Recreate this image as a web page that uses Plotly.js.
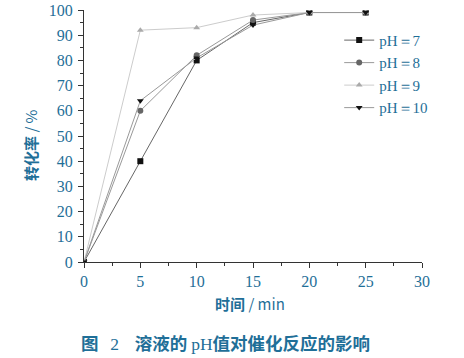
<!DOCTYPE html>
<html><head><meta charset="utf-8">
<script src="https://cdn.plot.ly/plotly-3.0.1.min.js"></script>
<style>body{margin:0;background:#fff}#c{width:464px;height:358px}</style>
</head><body><div id="c"></div>
<script>
const time = [0, 5, 10, 15, 20, 25];
const ph7 = [0, 40, 80, 95, 99, 99];
const ph8 = [0, 60, 82, 96, 99, 99];
const ph9 = [0, 92, 93, 98, 99, 99];
const ph10 = [0, 64, 81, 94, 99, 99];
const names = ['pH＝7', 'pH＝8', 'pH＝9', 'pH＝10'];
const xTicks = [0, 5, 10, 15, 20, 25, 30];
const yTicks = [0, 10, 20, 30, 40, 50, 60, 70, 80, 90, 100];

const blue = '#1f6f98';
const serif = 'Liberation Serif, Times New Roman, serif';
const cjk = 'Noto Sans CJK SC, sans-serif';

const styles = [
  {lc:'#666', mc:'#111', sym:'square'},
  {lc:'#999', mc:'#666', sym:'circle'},
  {lc:'#ccc', mc:'#aaa', sym:'triangle-up'},
  {lc:'#999', mc:'#111', sym:'triangle-down'}
];
const series = [ph7, ph8, ph9, ph10];
const data = series.map((s, i) => ({
  x: time, y: s, name: names[i], type: 'scatter', mode: 'lines+markers',
  line: {color: styles[i].lc, width: 1},
  marker: {color: styles[i].mc, symbol: styles[i].sym, size: 6}
}));

const layout = {
  width: 464, height: 358,
  margin: {l: 84, r: 42, t: 10, b: 96},
  paper_bgcolor: '#fff', plot_bgcolor: '#fff',
  showlegend: true,
  legend: {x: 0.755, y: 0.945, xanchor: 'left', yanchor: 'top',
    font: {family: serif, size: 15, color: blue},
    bgcolor: 'rgba(0,0,0,0)', tracegroupgap: 0, itemwidth: 30},
  xaxis: {range: [0, 30], tickvals: xTicks, ticktext: xTicks.map(String),
    showgrid: false, zeroline: false, showline: true, linecolor: '#333', linewidth: 1,
    ticks: 'outside', ticklen: 5, tickcolor: '#333',
    minor: {dtick: 2.5, ticks: 'outside', ticklen: 3, tickcolor: '#333'},
    tickfont: {family: serif, size: 16, color: blue}},
  yaxis: {range: [0, 100], tickvals: yTicks, ticktext: yTicks.map(String),
    showgrid: false, zeroline: false, showline: true, linecolor: '#333', linewidth: 1,
    ticks: 'outside', ticklen: 5, tickcolor: '#333', ticklabelstandoff: 2,
    minor: {dtick: 5, ticks: 'outside', ticklen: 3, tickcolor: '#333'},
    tickfont: {family: serif, size: 16, color: blue}},
  annotations: [
    {text: '<b>转化率</b> / %', xref: 'paper', yref: 'paper', x: -0.16, y: 0.464,
      xanchor: 'center', yanchor: 'middle', textangle: -90, showarrow: false,
      font: {family: cjk, size: 15, color: blue}},
    {text: '<b>时间</b> / min', xref: 'paper', yref: 'paper', x: 0.49, y: -0.165,
      xanchor: 'center', yanchor: 'middle', showarrow: false,
      font: {family: cjk, size: 15, color: blue}},
    {text: '<b>图</b>&nbsp;&nbsp;&nbsp;<span style="font-family:Liberation Serif">2</span>&nbsp;&nbsp;&nbsp;&nbsp;<b>溶液的</b> <span style="font-family:Liberation Serif">pH</span><b>值对催化反应的影响</b>',
      xref: 'paper', yref: 'paper', x: 0.42, y: -0.32,
      xanchor: 'center', yanchor: 'middle', showarrow: false,
      font: {family: cjk, size: 17.5, color: blue}}
  ]
};
Plotly.newPlot('c', data, layout, {displayModeBar: false, staticPlot: true});
</script></body></html>
